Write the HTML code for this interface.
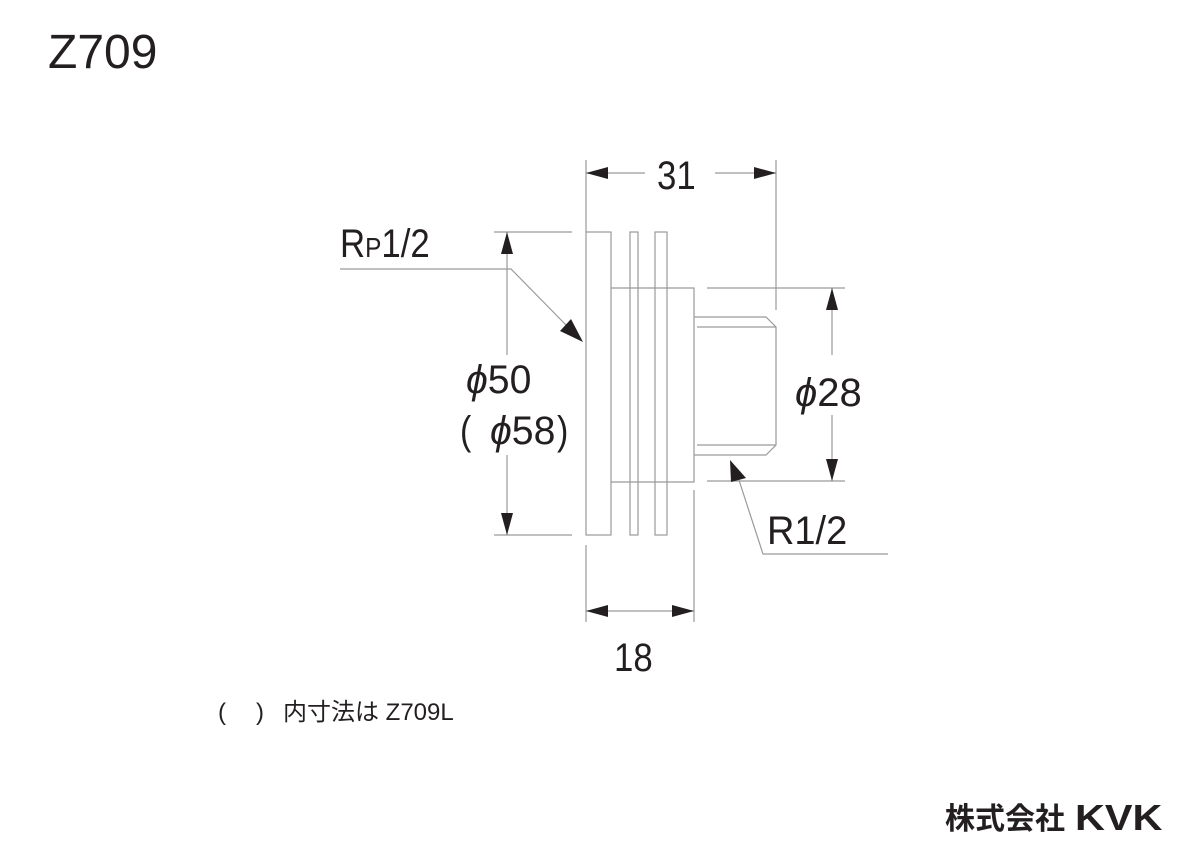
<!DOCTYPE html>
<html><head><meta charset="utf-8"><style>
html,body{margin:0;padding:0;background:#fff;}
svg{display:block;}
text{font-family:"Liberation Sans","Noto Sans CJK JP",sans-serif;fill:#231f20;}
</style></head><body>
<svg width="1200" height="856" viewBox="0 0 1200 856" xmlns="http://www.w3.org/2000/svg">
<text x="48" y="68" font-size="48">Z709</text>

<g fill="none" stroke="#9a9a9a" stroke-width="1.2">
<rect x="586" y="232" width="25" height="303"/>
<rect x="630" y="232" width="8" height="303"/>
<rect x="655" y="232" width="12" height="303"/>
<path d="M611,288 H694 V482 H611"/>
<path d="M694,317 H766 L776,327 V445 L766,455 H694"/>
<path d="M697,327 H776 M697,445 H776"/>
<path d="M494,232 H572 M494,535 H572"/>
<path d="M586,160 V232 M776,160 V310"/>
<path d="M707,288 H845 M707,481 H845"/>
<path d="M586,545 V622 M694,490 V622"/>
<path d="M340,269 H511 L568,327"/>
<path d="M737,474 L763,554 H888"/>
<path d="M507,232 V355 M507,455 V535"/>
<path d="M586,173 H645 M715,173 H776"/>
<path d="M832,288 V355 M832,415 V481"/>
<path d="M586,611 H694"/>
</g>
<g fill="#231f20">
<path d="M507,232 L501,254 L513,254 Z"/>
<path d="M507,535 L501,513 L513,513 Z"/>
<path d="M586,173 L608,167 L608,179 Z"/>
<path d="M776,173 L754,167 L754,179 Z"/>
<path d="M832,288 L826,310 L838,310 Z"/>
<path d="M832,481 L826,459 L838,459 Z"/>
<path d="M586,611 L608,605 L608,617 Z"/>
<path d="M694,611 L672,605 L672,617 Z"/>
<path d="M583,342 L560,331 L571,319 Z"/>
<path d="M730,460 L746,478 L731,482 Z"/>
</g>

<g font-size="40">
<text x="340" y="257" transform="translate(340 0) scale(0.87 1) translate(-340 0)">R<tspan font-size="28">P</tspan>1/2</text>
<text x="657" y="189" transform="translate(657 0) scale(0.87 1) translate(-657 0)">31</text>
<text x="466" y="393" transform="translate(466 0) scale(0.98 1) translate(-466 0)"><tspan font-style="italic">ϕ</tspan>50</text>
<text x="460" y="444" transform="translate(460 0) scale(0.85 1) translate(-460 0)">(</text>
<text x="490" y="444" transform="translate(490 0) scale(0.98 1) translate(-490 0)"><tspan font-style="italic">ϕ</tspan>58</text>
<text x="557" y="444" transform="translate(557 0) scale(0.85 1) translate(-557 0)">)</text>
<text x="795" y="406" transform="translate(795 0) scale(1.0 1) translate(-795 0)"><tspan font-style="italic">ϕ</tspan>28</text>
<text x="767" y="544" transform="translate(767 0) scale(0.95 1) translate(-767 0)">R1/2</text>
<text x="614" y="671" transform="translate(614 0) scale(0.87 1) translate(-614 0)">18</text>
</g>
<text x="218" y="720" font-size="24">(</text>
<text x="256" y="720" font-size="24">)</text>
<text x="283" y="720" font-size="24">内寸法は Z709L</text>
<text x="945" y="829" font-size="30" font-weight="bold">株式会社</text>
<text x="1075" y="830" font-size="36" font-weight="bold" transform="translate(1075 0) scale(1.15 1) translate(-1075 0)">KVK</text>
</svg>
</body></html>
